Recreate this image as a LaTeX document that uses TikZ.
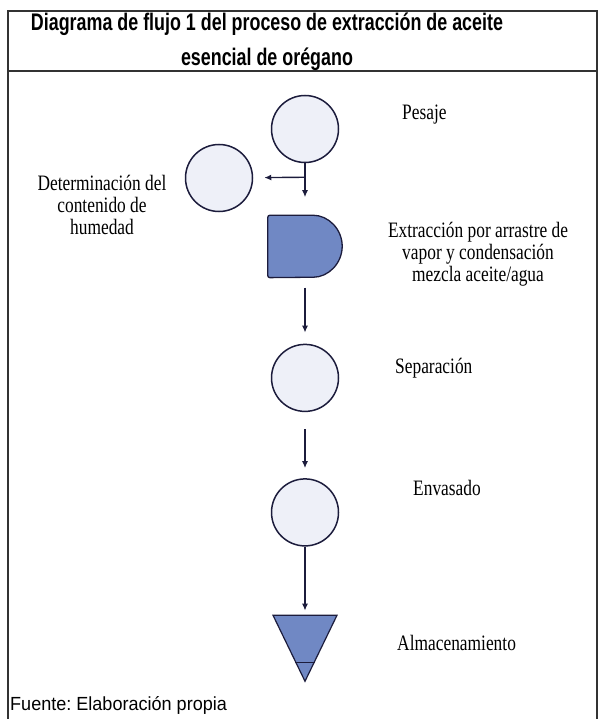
\documentclass[tikz,border=0pt]{standalone}
\usepackage{fontspec}
\setmainfont{Liberation Serif}
\newfontfamily\lblfont[FakeStretch=0.79]{Liberation Serif}
\newfontfamily\headfont[FakeStretch=0.745]{Liberation Sans}
\newfontfamily\srcfont[FakeStretch=0.95]{Liberation Sans}
\usetikzlibrary{positioning, arrows.meta, shapes.geometric, calc}
\definecolor{opfill}{HTML}{EEF0F8}
\definecolor{opline}{HTML}{1C1C3C}
\definecolor{dfill}{HTML}{7088C4}
\definecolor{framegray}{HTML}{333333}
\frenchspacing
\tikzset{
  opcirc/.style  ={circle, draw=opline, fill=opfill, line width=1.5pt,
                   minimum size=67pt, inner sep=0pt},
  delaybox/.style={minimum width=74pt, minimum height=62pt, inner sep=0pt},
  storetri/.style={isosceles triangle, isosceles triangle stretches,
                   shape border rotate=270, draw=opline, fill=dfill, line width=1.2pt,
                   minimum width=64pt, minimum height=66pt, inner sep=0pt},
  flow/.style    ={-{Latex[length=7pt, width=6pt]}, line width=1.4pt, draw=opline},
  lbl/.style     ={font=\lblfont\fontsize{22}{22}\selectfont, align=center, inner sep=0pt},
}

\begin{document}
\begin{tikzpicture}[x=1pt, y=1pt, node distance=52pt]
  \useasboundingbox (0,0) rectangle (598,-719);
  % marco y encabezado
  \draw[framegray, line width=1.6pt] (8,-719) -- (8,-11) -- (597,-11) -- (597,-719);
  \draw[framegray, line width=1.6pt] (8,-71) -- (597,-71);
  \node[font=\headfont\bfseries\fontsize{24}{35}\selectfont, align=center] (title) at (267,-42)
    {Diagrama de flujo 1 del proceso de extracción de aceite\\esencial de orégano};

  % operaciones
  \node[opcirc] (pesaje) at (305,-129) {};
  \node[delaybox, below=52pt of pesaje] (extrac) {};
  \draw[opline, fill=dfill, line width=1.3pt, rounded corners=2pt]
    (extrac.south west) -- (extrac.north west) -- ([xshift=-31pt]extrac.north east)
    arc[start angle=90, end angle=-90, radius=31pt] -- cycle;
  \node[opcirc, below=66pt of extrac] (separa) {};
  \node[opcirc, below=66pt of separa] (envasa) {};
  \node[storetri, below=68pt of envasa] (almac) {};
  \draw[opline, line width=1pt]
    ($(almac.apex)!0.3!(almac.left corner)$) -- ($(almac.apex)!0.3!(almac.right corner)$);
  \node[opcirc] (humedad) at (219,-178) {};

  % flechas
  \coordinate (split) at ([yshift=-14pt]pesaje.south);
  \draw[flow, shorten >=18pt] (pesaje) -- (extrac);
  \draw[flow, shorten >=11pt] (split) -- (humedad);
  \draw[flow, shorten <=10pt, shorten >=11pt] (extrac) -- (separa);
  \draw[flow, shorten <=17pt, shorten >=10pt] (separa) -- (envasa);
  \draw[flow, shorten >=4pt] (envasa) -- (almac);

  % rotulos
  \node[lbl, anchor=west] (t-pesaje) at (402,-115) {Pesaje};
  \node[lbl] (t-humedad) at (102,-205) {Determinación del\\contenido de\\humedad};
  \node[lbl] (t-extrac) at (478,-254) {Extracción por arrastre de\\vapor y condensación\\mezcla aceite/agua};
  \node[lbl, anchor=west] (t-separa) at (395,-368) {Separación};
  \node[lbl, anchor=west] (t-envasa) at (413,-488) {Envasado};
  \node[lbl, anchor=west] (t-almac) at (397,-643) {Almacenamiento};
  \node[font=\srcfont\fontsize{19}{20}\selectfont, anchor=west, inner sep=0pt] (fuente)
    at (10,-705) {Fuente: Elaboración propia};
\end{tikzpicture}
\end{document}
